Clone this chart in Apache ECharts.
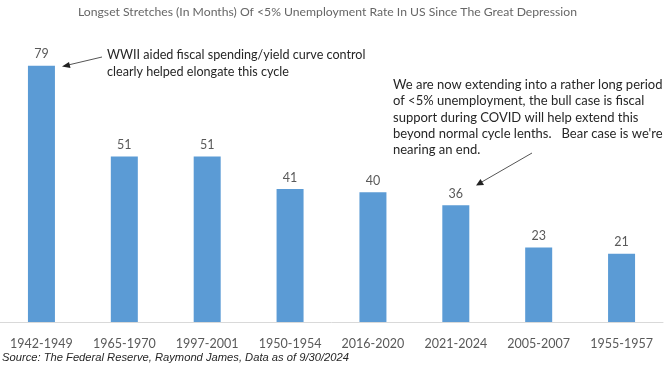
<!DOCTYPE html>
<html><head><meta charset="utf-8">
<script src="https://cdn.jsdelivr.net/npm/echarts@6/dist/echarts.min.js"></script>
<style>html,body{margin:0;padding:0;background:#fff}#c{width:665px;height:372px}</style>
</head><body><div id="c"></div>
<script>
const categories = ['1942-1949','1965-1970','1997-2001','1950-1954','2016-2020','2021-2024','2005-2007','1955-1957'];
const months = [79, 51, 51, 41, 40, 36, 23, 21];
const titleText = 'Longset Stretches (In Months) Of <5% Unemployment Rate In US Since The Great Depression';
const sourceText = 'Source: The Federal Reserve, Raymond James, Data as of 9/30/2024';
const note1 = 'WWII aided fiscal spending/yield curve control\nclearly helped elongate this cycle';
const note2 = 'We are now extending into a rather long period\nof <5% unemployment, the bull case is fiscal\nsupport during COVID will help extend this\nbeyond normal cycle lenths.   Bear case is we\'re\nnearing an end.';
const FONT = 'Lato';
const chart = echarts.init(document.getElementById('c'));
chart.setOption({
  animation: false,
  title: { text: titleText, left: 73, top: 1, textStyle: { fontFamily: FONT, fontSize: 12.2, fontWeight: 'normal', color: '#666' } },
  grid: { left: -13, right: 2, top: 30, bottom: 50, containLabel: false },
  xAxis: {
    type: 'category', data: categories,
    axisLine: { lineStyle: { color: '#d9d9d9', width: 1 } },
    axisTick: { show: false },
    axisLabel: { fontFamily: FONT, fontSize: 12.5, color: '#595959', margin: 15, interval: 0 }
  },
  yAxis: { type: 'value', min: 0, max: 90, show: false, splitLine: { show: false } },
  series: [{
    type: 'bar', data: months, barWidth: 27,
    itemStyle: { color: '#5B9BD5' },
    label: { show: true, position: 'top', distance: 5, fontFamily: FONT, fontSize: 12.5, color: '#595959' }
  }],
  graphic: [
    { type: 'text', left: 2, top: 352, style: { text: sourceText, font: 'italic 11.2px "Liberation Sans", Arial', fill: '#262626' } },
    { type: 'text', left: 107, top: 46, style: { text: note1, font: '12.6px ' + FONT, fill: '#262626', lineHeight: 17 } },
    { type: 'text', left: 393, top: 77, style: { text: note2, font: '13px ' + FONT, fill: '#262626', lineHeight: 16.2 } },
    { type: 'line', shape: { x1: 102, y1: 57, x2: 66, y2: 65.5 }, style: { stroke: '#555', lineWidth: 1 } },
    { type: 'polygon', shape: { points: [[62, 66.5], [69, 62], [70.5, 68]] }, style: { fill: '#222' } },
    { type: 'line', shape: { x1: 532, y1: 153, x2: 480, y2: 183 }, style: { stroke: '#555', lineWidth: 1 } },
    { type: 'polygon', shape: { points: [[476, 185.5], [480.5, 179], [484, 185]] }, style: { fill: '#222' } }
  ]
});
</script></body></html>
